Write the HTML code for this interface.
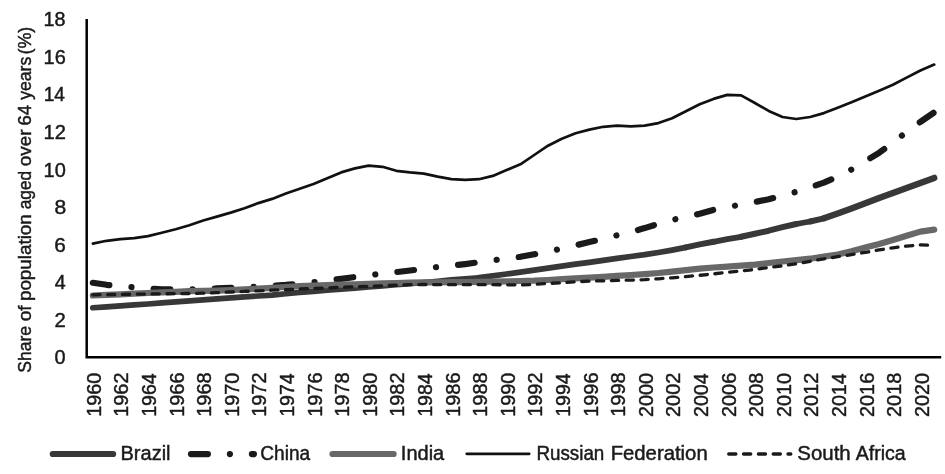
<!DOCTYPE html>
<html><head><meta charset="utf-8"><title>Share of population aged over 64 years</title>
<style>html,body{margin:0;padding:0;background:#fff}svg{display:block}</style></head>
<body>
<svg width="945" height="474" viewBox="0 0 945 474">
<rect width="945" height="474" fill="#fff"/>
<g font-family="'Liberation Sans', sans-serif" fill="#1a1a1a" stroke="#1a1a1a" stroke-width="0.45">
<text x="54.40" y="364.30" font-size="19.6" textLength="11.08" lengthAdjust="spacingAndGlyphs">0</text>
<text x="54.42" y="326.74" font-size="19.6" textLength="11.30" lengthAdjust="spacingAndGlyphs">2</text>
<text x="54.80" y="289.18" font-size="19.6" textLength="10.93" lengthAdjust="spacingAndGlyphs">4</text>
<text x="54.21" y="251.62" font-size="19.6" textLength="11.57" lengthAdjust="spacingAndGlyphs">6</text>
<text x="54.57" y="214.06" font-size="19.6" textLength="11.72" lengthAdjust="spacingAndGlyphs">8</text>
<text x="43.55" y="176.50" font-size="19.6" textLength="22.24" lengthAdjust="spacingAndGlyphs">10</text>
<text x="43.51" y="138.94" font-size="19.6" textLength="22.36" lengthAdjust="spacingAndGlyphs">12</text>
<text x="43.69" y="101.38" font-size="19.6" textLength="21.28" lengthAdjust="spacingAndGlyphs">14</text>
<text x="43.55" y="63.82" font-size="19.6" textLength="22.17" lengthAdjust="spacingAndGlyphs">16</text>
<text x="43.53" y="26.26" font-size="19.6" textLength="21.97" lengthAdjust="spacingAndGlyphs">18</text>
<text transform="translate(100.90,416.78) rotate(-90)" font-size="20" textLength="44.07" lengthAdjust="spacingAndGlyphs">1960</text>
<text transform="translate(128.49,416.80) rotate(-90)" font-size="20" textLength="44.33" lengthAdjust="spacingAndGlyphs">1962</text>
<text transform="translate(156.09,416.78) rotate(-90)" font-size="20" textLength="43.50" lengthAdjust="spacingAndGlyphs">1964</text>
<text transform="translate(183.68,416.80) rotate(-90)" font-size="20" textLength="44.35" lengthAdjust="spacingAndGlyphs">1966</text>
<text transform="translate(211.28,416.80) rotate(-90)" font-size="20" textLength="44.43" lengthAdjust="spacingAndGlyphs">1968</text>
<text transform="translate(238.87,416.78) rotate(-90)" font-size="20" textLength="44.07" lengthAdjust="spacingAndGlyphs">1970</text>
<text transform="translate(266.46,416.80) rotate(-90)" font-size="20" textLength="44.33" lengthAdjust="spacingAndGlyphs">1972</text>
<text transform="translate(294.06,416.78) rotate(-90)" font-size="20" textLength="43.50" lengthAdjust="spacingAndGlyphs">1974</text>
<text transform="translate(321.65,416.80) rotate(-90)" font-size="20" textLength="44.35" lengthAdjust="spacingAndGlyphs">1976</text>
<text transform="translate(349.25,416.80) rotate(-90)" font-size="20" textLength="44.43" lengthAdjust="spacingAndGlyphs">1978</text>
<text transform="translate(376.84,416.78) rotate(-90)" font-size="20" textLength="44.07" lengthAdjust="spacingAndGlyphs">1980</text>
<text transform="translate(404.43,416.80) rotate(-90)" font-size="20" textLength="44.33" lengthAdjust="spacingAndGlyphs">1982</text>
<text transform="translate(432.03,416.78) rotate(-90)" font-size="20" textLength="43.50" lengthAdjust="spacingAndGlyphs">1984</text>
<text transform="translate(459.62,416.80) rotate(-90)" font-size="20" textLength="44.35" lengthAdjust="spacingAndGlyphs">1986</text>
<text transform="translate(487.22,416.80) rotate(-90)" font-size="20" textLength="44.43" lengthAdjust="spacingAndGlyphs">1988</text>
<text transform="translate(514.81,416.78) rotate(-90)" font-size="20" textLength="44.07" lengthAdjust="spacingAndGlyphs">1990</text>
<text transform="translate(542.40,416.80) rotate(-90)" font-size="20" textLength="44.33" lengthAdjust="spacingAndGlyphs">1992</text>
<text transform="translate(570.00,416.78) rotate(-90)" font-size="20" textLength="43.50" lengthAdjust="spacingAndGlyphs">1994</text>
<text transform="translate(597.59,416.80) rotate(-90)" font-size="20" textLength="44.35" lengthAdjust="spacingAndGlyphs">1996</text>
<text transform="translate(625.19,416.80) rotate(-90)" font-size="20" textLength="44.43" lengthAdjust="spacingAndGlyphs">1998</text>
<text transform="translate(652.78,416.95) rotate(-90)" font-size="20" textLength="43.86" lengthAdjust="spacingAndGlyphs">2000</text>
<text transform="translate(680.37,416.95) rotate(-90)" font-size="20" textLength="44.23" lengthAdjust="spacingAndGlyphs">2002</text>
<text transform="translate(707.97,416.95) rotate(-90)" font-size="20" textLength="43.57" lengthAdjust="spacingAndGlyphs">2004</text>
<text transform="translate(735.56,416.95) rotate(-90)" font-size="20" textLength="44.15" lengthAdjust="spacingAndGlyphs">2006</text>
<text transform="translate(763.16,416.95) rotate(-90)" font-size="20" textLength="44.17" lengthAdjust="spacingAndGlyphs">2008</text>
<text transform="translate(790.75,416.95) rotate(-90)" font-size="20" textLength="43.86" lengthAdjust="spacingAndGlyphs">2010</text>
<text transform="translate(818.34,416.95) rotate(-90)" font-size="20" textLength="44.23" lengthAdjust="spacingAndGlyphs">2012</text>
<text transform="translate(845.94,416.95) rotate(-90)" font-size="20" textLength="43.57" lengthAdjust="spacingAndGlyphs">2014</text>
<text transform="translate(873.53,416.95) rotate(-90)" font-size="20" textLength="44.15" lengthAdjust="spacingAndGlyphs">2016</text>
<text transform="translate(901.13,416.95) rotate(-90)" font-size="20" textLength="44.17" lengthAdjust="spacingAndGlyphs">2018</text>
<text transform="translate(928.72,416.95) rotate(-90)" font-size="20" textLength="43.86" lengthAdjust="spacingAndGlyphs">2020</text>
<text x="120.47" y="460.40" font-size="19.4" textLength="50.08" lengthAdjust="spacingAndGlyphs">Brazil</text>
<text x="260.35" y="460.40" font-size="19.4" textLength="49.82" lengthAdjust="spacingAndGlyphs">China</text>
<text x="400.89" y="460.40" font-size="19.4" textLength="43.37" lengthAdjust="spacingAndGlyphs">India</text>
<text x="536.42" y="460.40" font-size="19.4" textLength="67.92" lengthAdjust="spacingAndGlyphs">Russian</text>
<text x="610.65" y="460.40" font-size="19.4" textLength="97.05" lengthAdjust="spacingAndGlyphs">Federation</text>
<text x="797.34" y="460.40" font-size="19.4" textLength="53.40" lengthAdjust="spacingAndGlyphs">South</text>
<text x="855.70" y="460.40" font-size="19.4" textLength="50.08" lengthAdjust="spacingAndGlyphs">Africa</text>
<g aria-label="Share of population aged over 64 years (%)">
<text transform="translate(30.70,372.69) rotate(-90)" font-size="18.6" textLength="46.77" lengthAdjust="spacingAndGlyphs">Share</text>
<text transform="translate(30.70,321.30) rotate(-90)" font-size="18.6" textLength="15.94" lengthAdjust="spacingAndGlyphs">of</text>
<text transform="translate(30.70,301.06) rotate(-90)" font-size="18.6" textLength="86.87" lengthAdjust="spacingAndGlyphs">population</text>
<text transform="translate(30.70,209.17) rotate(-90)" font-size="18.6" textLength="38.17" lengthAdjust="spacingAndGlyphs">aged</text>
<text transform="translate(30.70,166.18) rotate(-90)" font-size="18.6" textLength="36.57" lengthAdjust="spacingAndGlyphs">over</text>
<text transform="translate(30.70,125.38) rotate(-90)" font-size="18.6" textLength="20.44" lengthAdjust="spacingAndGlyphs">64</text>
<text transform="translate(30.70,99.80) rotate(-90)" font-size="18.6" textLength="43.04" lengthAdjust="spacingAndGlyphs">years</text>
<text transform="translate(30.70,54.59) rotate(-90)" font-size="18.6" textLength="27.93" lengthAdjust="spacingAndGlyphs">(%)</text>
</g>
</g>
<g fill="none" stroke-linecap="round" stroke-linejoin="round">
<path d="M86.7,19.0 V357.2 H941.2" stroke="#000" stroke-width="2.5" stroke-linecap="butt" stroke-linejoin="miter"/>
<g stroke="#383838">
<path d="M92.8,307.8 L106.6,306.9 L120.4,305.9 L134.2,304.9 L148.0,304.0 L161.8,302.9 L175.6,301.9 L189.4,300.9 L203.2,299.9 L216.9,298.9 L230.7,297.9 L244.5,296.9 L258.3,296.0 L272.1,295.1 L285.9,293.7 L299.7,292.4 L313.5,291.4 L327.3,290.3 L341.1,289.2 L354.9,288.1 L368.7,287.0 L382.5,285.9 L396.3,284.8 L410.1,283.7 L423.9,282.5 L437.7,281.2 L451.4,279.9 L465.2,278.8 L479.0,277.7" stroke-width="5.6"/>
<path d="M479.0,277.7 L492.8,275.9 L506.6,274.0 L520.4,272.1 L534.2,270.1 L548.0,268.2 L561.8,266.2 L575.6,264.2 L589.4,262.3 L603.2,260.4 L617.0,258.4 L630.8,256.5 L644.6,254.7 L658.4,252.5 L672.1,250.1 L685.9,247.4" stroke-width="5.8"/>
<path d="M685.9,247.4 L699.7,244.4 L713.5,241.8" stroke-width="6.0"/>
<path d="M713.5,241.8 L727.3,239.2 L741.1,236.8" stroke-width="5.8"/>
<path d="M741.1,236.8 L754.9,233.8 L768.7,230.7 L782.5,227.2 L796.3,224.0" stroke-width="6.0"/>
<path d="M796.3,224.0 L810.1,221.5" stroke-width="5.8"/>
<path d="M810.1,221.5 L823.9,218.3" stroke-width="6.0"/>
<path d="M823.9,218.3 L837.7,213.4 L851.5,208.5 L865.3,203.3 L879.1,197.9 L892.9,192.9 L906.6,188.0 L920.4,182.9 L934.2,177.9" stroke-width="6.4"/>
</g>
<path d="M92.8,282.8 L106.6,284.8 L120.4,286.2 L134.2,287.4 L148.0,288.4 L161.8,289.3 L175.6,289.4 L189.4,289.4 L203.2,289.0 L216.9,288.4 L230.7,287.8 L244.5,287.2 L258.3,286.5 L272.1,285.7 L285.9,284.9 L299.7,283.6 L313.5,282.2 L327.3,280.5 L341.1,278.8 L354.9,277.0 L368.7,275.3 L382.5,273.6 L396.3,272.1 L410.1,270.5 L423.9,268.7 L437.7,267.0 L451.4,265.7 L465.2,264.1 L479.0,262.2 L492.8,260.3 L506.6,258.5 L520.4,256.8 L534.2,254.3 L548.0,251.5 L561.8,248.6 L575.6,245.3 L589.4,242.1 L603.2,238.8 L617.0,235.3 L630.8,232.0 L644.6,228.1 L658.4,223.8 L672.1,220.0 L685.9,216.9 L699.7,213.8 L713.5,209.9 L727.3,207.2 L741.1,204.5 L754.9,202.0 L768.7,199.2 L782.5,195.7 L796.3,191.8 L810.1,187.3 L823.9,182.6 L837.7,176.7 L851.5,169.5 L865.3,161.3 L879.1,152.8 L892.9,142.6 L906.6,131.9 L920.4,121.9 L934.2,112.4" stroke="#1a1a1a" stroke-width="6.2" stroke-dasharray="16.7 22.22 0.01 22.22"/>
<path d="M92.8,295.5 L106.6,294.9 L120.4,294.3 L134.2,293.6 L148.0,293.0 L161.8,292.4 L175.6,291.8 L189.4,291.1 L203.2,290.8 L216.9,290.6 L230.7,290.1 L244.5,289.4 L258.3,288.7 L272.1,287.8 L285.9,287.0 L299.7,286.1 L313.5,285.6 L327.3,285.2 L341.1,284.7 L354.9,284.3 L368.7,283.8 L382.5,283.4 L396.3,283.0 L410.1,282.7 L423.9,282.4 L437.7,282.3 L451.4,282.2 L465.2,282.1 L479.0,281.9 L492.8,281.6 L506.6,281.3 L520.4,281.0 L534.2,280.7 L548.0,280.0 L561.8,279.2 L575.6,278.4 L589.4,277.7 L603.2,276.8 L617.0,275.9 L630.8,275.0 L644.6,274.1 L658.4,273.0 L672.1,271.6 L685.9,270.1 L699.7,268.6 L713.5,267.5 L727.3,266.6 L741.1,265.7 L754.9,264.7 L768.7,263.0 L782.5,261.5 L796.3,260.2 L810.1,258.7 L823.9,256.6 L837.7,254.5 L851.5,251.2 L865.3,247.5 L879.1,244.1 L892.9,240.1 L906.6,235.8 L920.4,231.6 L934.2,229.6" stroke="#686868" stroke-width="6.2"/>
<path d="M92.8,243.6 L106.6,240.8 L120.4,239.2 L134.2,238.2 L148.0,236.1 L161.8,232.7 L175.6,229.2 L189.4,225.2 L203.2,220.5 L216.9,216.6 L230.7,212.6 L244.5,208.2 L258.3,203.1 L272.1,198.9 L285.9,193.5 L299.7,188.8 L313.5,184.0 L327.3,178.2 L341.1,172.4 L354.9,168.4 L368.7,165.6 L382.5,166.8 L396.3,170.8 L410.1,172.4 L423.9,173.6 L437.7,176.6 L451.4,179.2 L465.2,179.8 L479.0,179.2 L492.8,175.9 L506.6,170.1 L520.4,164.3 L534.2,155.0 L548.0,145.7 L561.8,138.7 L575.6,133.3 L589.4,129.6 L603.2,126.8 L617.0,125.6 L630.8,126.3 L644.6,125.6 L658.4,123.1 L672.1,118.2 L685.9,111.2 L699.7,104.2 L713.5,98.9 L727.3,94.9 L741.1,95.4 L754.9,103.0 L768.7,110.9 L782.5,117.0 L796.3,119.0 L810.1,117.0 L823.9,113.1 L837.7,107.8 L851.5,102.2 L865.3,96.6 L879.1,90.8 L892.9,84.7 L906.6,77.6 L920.4,70.5 L934.2,64.6" stroke="#111" stroke-width="2.7"/>
<path d="M92.8,294.8 L106.6,294.6 L120.4,294.4 L134.2,294.2 L148.0,294.0 L161.8,293.8 L175.6,293.6 L189.4,293.5 L203.2,293.2 L216.9,292.6 L230.7,292.0 L244.5,291.4 L258.3,290.8 L272.1,290.2 L285.9,289.6 L299.7,289.0 L313.5,288.4 L327.3,287.9 L341.1,287.3 L354.9,286.8 L368.7,286.3 L382.5,285.8 L396.3,285.2 L410.1,284.7 L423.9,284.5 L437.7,284.6 L451.4,284.6 L465.2,284.6 L479.0,284.6 L492.8,284.7 L506.6,284.8 L520.4,284.9 L534.2,284.4 L548.0,283.5 L561.8,282.7 L575.6,281.8 L589.4,281.1 L603.2,280.8 L617.0,280.4 L630.8,280.1 L644.6,279.7 L658.4,278.8 L672.1,277.8 L685.9,276.6 L699.7,275.3 L713.5,273.9 L727.3,272.4 L741.1,270.9 L754.9,269.4 L768.7,267.5 L782.5,265.8 L796.3,263.7 L810.1,261.3 L823.9,258.8 L837.7,256.7 L851.5,254.6 L865.3,252.4 L879.1,249.9 L892.9,247.8 L906.6,246.1 L920.4,244.8 L934.2,245.6" stroke="#1a1a1a" stroke-width="3.3" stroke-dasharray="7.2 7.625"/>
<path d="M52.8,454 H113.1" stroke="#383838" stroke-width="6.2"/>
<path d="M191,454.1 H254" stroke="#1a1a1a" stroke-width="6.2" stroke-dasharray="16.9 22 0.01 22 2 100"/>
<path d="M332.5,454 H393.6" stroke="#686868" stroke-width="6.2"/>
<path d="M466.7,453.8 H529.2" stroke="#111" stroke-width="2.7"/>
<path d="M728.7,454 H790.8" stroke="#1a1a1a" stroke-width="3.3" stroke-dasharray="7.2 7.625"/>
</g></svg>
</body></html>
